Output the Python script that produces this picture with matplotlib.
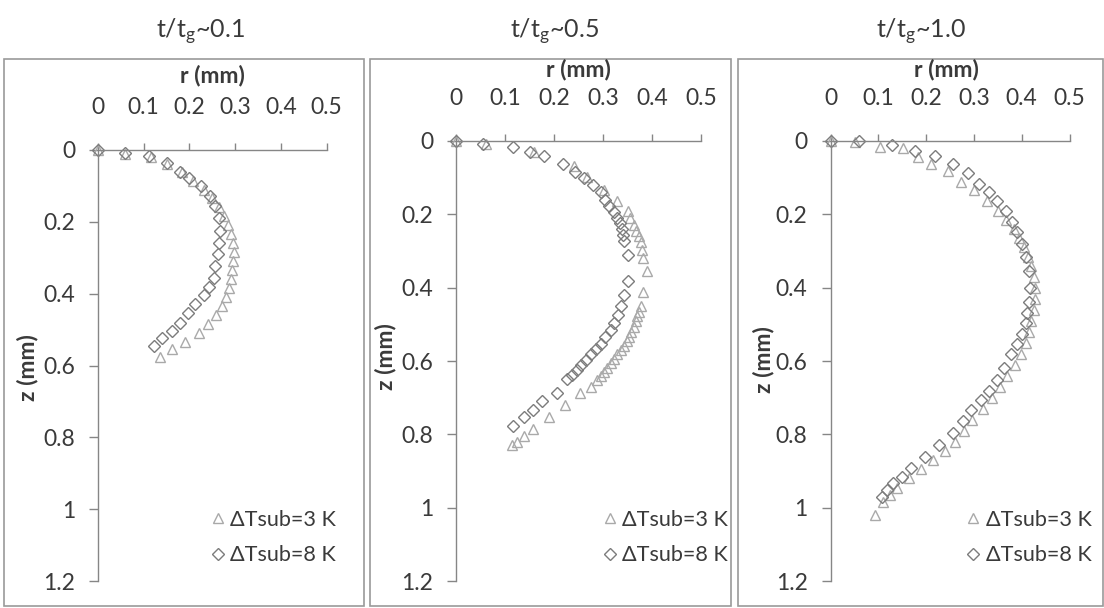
import matplotlib
matplotlib.use("Agg")
import matplotlib.pyplot as plt
from matplotlib.patches import Rectangle

plt.rcParams['font.family'] = ['Lato', 'DejaVu Sans']
plt.rcParams['mathtext.fontset'] = 'custom'
plt.rcParams['mathtext.rm'] = 'Lato'
plt.rcParams['mathtext.it'] = 'Lato:italic'

# Bubble profiles: radius r (mm) versus height z (mm)
titles = ["t/t$_\\mathrm{g}$~0.1", "t/t$_\\mathrm{g}$~0.5", "t/t$_\\mathrm{g}$~1.0"]
series_labels = ["\u0394Tsub=3 K", "\u0394Tsub=8 K"]
x_ticks = [0, 0.1, 0.2, 0.3, 0.4, 0.5]
x_tick_labels = ["0", "0.1", "0.2", "0.3", "0.4", "0.5"]
y_ticks = [0, 0.2, 0.4, 0.6, 0.8, 1.0, 1.2]
y_tick_labels = ["0", "0.2", "0.4", "0.6", "0.8", "1", "1.2"]

# t/tg ~ 0.1
r3_a = [0.0, 0.06, 0.115, 0.15, 0.183, 0.207, 0.232, 0.25, 0.264, 0.276, 0.285, 0.292, 0.296,
        0.297, 0.295, 0.293, 0.29, 0.286, 0.281, 0.272, 0.258, 0.24, 0.22, 0.19, 0.162, 0.135]
z3_a = [0.0, 0.01, 0.02, 0.04, 0.062, 0.085, 0.11, 0.135, 0.16, 0.185, 0.21, 0.235, 0.26,
        0.285, 0.31, 0.335, 0.36, 0.385, 0.41, 0.435, 0.46, 0.485, 0.51, 0.535, 0.555, 0.575]
r8_a = [0.0, 0.058, 0.112, 0.15, 0.18, 0.2, 0.226, 0.245, 0.256, 0.264, 0.266, 0.264,
        0.262, 0.256, 0.253, 0.242, 0.231, 0.213, 0.198, 0.18, 0.162, 0.14, 0.122]
z8_a = [0.0, 0.008, 0.018, 0.037, 0.06, 0.077, 0.10, 0.128, 0.157, 0.19, 0.225, 0.26,
        0.29, 0.323, 0.355, 0.382, 0.405, 0.428, 0.455, 0.482, 0.505, 0.523, 0.545]

# t/tg ~ 0.5
r3_b = [0.0, 0.062, 0.16, 0.24, 0.268, 0.302, 0.329, 0.35, 0.356, 0.363, 0.368, 0.374, 0.377,
        0.38, 0.382, 0.389, 0.382, 0.377, 0.374, 0.37, 0.367, 0.363, 0.358, 0.353, 0.348,
        0.343, 0.336, 0.329, 0.322, 0.316, 0.309, 0.302, 0.295, 0.288, 0.275, 0.253, 0.223,
        0.189, 0.158, 0.138, 0.124, 0.114]
z3_b = [0.0, 0.008, 0.03, 0.068, 0.097, 0.135, 0.164, 0.192, 0.21, 0.23, 0.245, 0.259, 0.275,
        0.297, 0.32, 0.354, 0.411, 0.449, 0.465, 0.477, 0.492, 0.506, 0.52, 0.534, 0.546,
        0.558, 0.57, 0.582, 0.594, 0.606, 0.618, 0.629, 0.641, 0.653, 0.672, 0.687, 0.72,
        0.753, 0.786, 0.805, 0.82, 0.829]
r8_b = [0.0, 0.056, 0.116, 0.152, 0.18, 0.219, 0.242, 0.261, 0.28, 0.295, 0.305, 0.312, 0.322,
        0.329, 0.334, 0.339, 0.341, 0.343, 0.35, 0.352, 0.343, 0.337, 0.33, 0.322, 0.316,
        0.305, 0.295, 0.285, 0.276, 0.266, 0.256, 0.246, 0.236, 0.227, 0.206, 0.176, 0.158,
        0.138, 0.117]
z8_b = [0.0, 0.007, 0.016, 0.029, 0.042, 0.064, 0.085, 0.102, 0.12, 0.14, 0.16, 0.178, 0.195,
        0.211, 0.225, 0.24, 0.257, 0.273, 0.311, 0.382, 0.42, 0.449, 0.475, 0.497, 0.515,
        0.534, 0.553, 0.567, 0.582, 0.596, 0.61, 0.624, 0.638, 0.65, 0.687, 0.71, 0.734,
        0.753, 0.777]

# t/tg ~ 1.0
r3_c = [0.0, 0.052, 0.104, 0.152, 0.183, 0.211, 0.246, 0.273, 0.301, 0.328, 0.35, 0.368, 0.383,
        0.395, 0.405, 0.413, 0.42, 0.425, 0.428, 0.428, 0.425, 0.42, 0.415, 0.408, 0.398,
        0.385, 0.37, 0.355, 0.338, 0.318, 0.297, 0.28, 0.26, 0.24, 0.215, 0.19, 0.165, 0.14,
        0.125, 0.11, 0.093]
z3_c = [0.0, 0.004, 0.016, 0.018, 0.045, 0.064, 0.083, 0.111, 0.135, 0.164, 0.19, 0.215, 0.24,
        0.265, 0.29, 0.315, 0.34, 0.37, 0.4, 0.43, 0.46, 0.49, 0.52, 0.55, 0.58, 0.61, 0.64,
        0.67, 0.7, 0.73, 0.76, 0.79, 0.82, 0.845, 0.87, 0.895, 0.92, 0.945, 0.965, 0.985, 1.02]
r8_c = [0.0, 0.059, 0.128, 0.176, 0.218, 0.256, 0.287, 0.311, 0.332, 0.349, 0.367, 0.38, 0.391,
        0.401, 0.408, 0.415, 0.418, 0.415, 0.411, 0.408, 0.401, 0.391, 0.377, 0.363, 0.349,
        0.332, 0.315, 0.294, 0.277, 0.256, 0.228, 0.197, 0.169, 0.149, 0.131, 0.118, 0.107]
z8_c = [0.0, 0.0, 0.011, 0.026, 0.042, 0.064, 0.087, 0.116, 0.14, 0.164, 0.192, 0.221, 0.249,
        0.282, 0.316, 0.354, 0.401, 0.439, 0.468, 0.496, 0.525, 0.553, 0.582, 0.62, 0.653,
        0.682, 0.706, 0.734, 0.763, 0.796, 0.829, 0.862, 0.891, 0.915, 0.934, 0.953, 0.972]

panels = [(r3_a, z3_a, r8_a, z8_a), (r3_b, z3_b, r8_b, z8_b), (r3_c, z3_c, r8_c, z8_c)]

W, H = 1104, 608
fig = plt.figure(figsize=(W / 100, H / 100), dpi=100)
fig.patch.set_facecolor("white")

def fx(px):
    return px / W

def fy(py):
    return 1 - py / H

# axes boxes in pixels: (left, right, top, bottom)
boxes = [(98, 326.5, 150, 581), (456, 701, 141, 581), (830.5, 1069.5, 141, 581)]
frames = [(4, 364), (370, 731), (738, 1103)]
title_x = [200, 555, 921]
rlabel_x = [212, 578, 946]
rlabel_y = [76, 70, 70]
zlabel_x = [28, 386, 763]
zlabel_y = [368, 357, 360]
legend_pos = [(211, 510), (603, 510), (966, 510)]

text_col = "#3a3a3a"
axis_col = "#868686"
tri_col = "#a9a9a9"
dia_col = "#7c7c7c"
fs = 16.5

for i, (r3, z3, r8, z8) in enumerate(panels):
    l, r, t, b = boxes[i]
    ax = fig.add_axes([fx(l), fy(b), fx(r - l), (b - t) / H])
    ax.plot(r3, z3, linestyle="none", marker="^", markersize=7.5, markerfacecolor="none",
            markeredgecolor=tri_col, markeredgewidth=1.0, label=series_labels[0])
    ax.plot(r8, z8, linestyle="none", marker="D", markersize=6, markerfacecolor="none",
            markeredgecolor=dia_col, markeredgewidth=1.0, label=series_labels[1])
    ax.set_xlim(0, 0.5)
    ax.set_ylim(1.2, 0)
    ax.xaxis.tick_top()
    ax.set_xticks(x_ticks)
    ax.set_xticklabels(x_tick_labels)
    ax.set_yticks(y_ticks)
    ax.set_yticklabels(y_tick_labels)
    for side in ("right", "bottom"):
        ax.spines[side].set_visible(False)
    for side in ("left", "top"):
        ax.spines[side].set_color(axis_col)
        ax.spines[side].set_linewidth(1.0)
    ax.tick_params(axis="x", direction="out", length=5, width=1, color=axis_col,
                   pad=18, labelsize=fs, labelcolor=text_col)
    ax.tick_params(axis="y", direction="out", length=6.5, width=1, color=axis_col,
                   pad=10, labelsize=fs, labelcolor=text_col)
    ax.patch.set_alpha(0)
    for ln in ax.lines:
        ln.set_clip_on(False)

    lx, ly = legend_pos[i]
    ax.legend(loc="upper left", bbox_to_anchor=(fx(lx), fy(ly)), bbox_transform=fig.transFigure,
              frameon=False, fontsize=15.6, handlelength=0.6, handletextpad=0.3,
              borderpad=0, borderaxespad=0, labelspacing=0.7, labelcolor=text_col)

    fig.text(fx(title_x[i]), fy(32), titles[i], ha="center", va="center", fontsize=18,
             color=text_col)
    fig.text(fx(rlabel_x[i]), fy(rlabel_y[i]), "r (mm)", ha="center", va="center",
             fontsize=fs, fontweight="bold", color=text_col)
    fig.text(fx(zlabel_x[i]), fy(zlabel_y[i]), "z (mm)", ha="center", va="center",
             fontsize=fs, fontweight="bold", rotation=90, color=text_col)

    f0, f1 = frames[i]
    fig.patches.append(Rectangle((fx(f0), fy(606)), fx(f1 - f0), (606 - 59) / H,
                                 transform=fig.transFigure, fill=False,
                                 edgecolor="#9a9a9a", linewidth=1.2))

fig.savefig("out.png", dpi=100, facecolor="white")
